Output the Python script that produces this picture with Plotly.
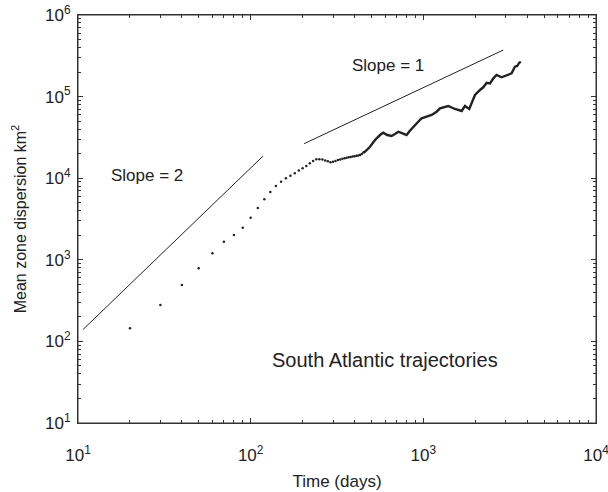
import plotly.graph_objects as go

# Early sparse samples (every 10 days), drawn as dots
dot_t = [20, 30, 40, 50, 60, 70, 80, 90, 100, 110, 120, 130, 140, 150, 160, 170,
         180, 190, 200, 210, 220, 230, 240, 250, 260, 270, 280, 290, 300, 310,
         320, 330, 340, 350, 360, 370, 380, 390, 400, 410, 420, 430, 440, 450]
dot_v = [145, 280, 490, 790, 1200, 1670, 2010, 2470, 3280, 4320, 5510, 6780,
         8020, 9060, 9980, 10700, 11500, 12400, 13200, 14100, 15200, 16300,
         17100, 17100, 16900, 16500, 16100, 15700, 15900, 16300, 16700, 17000,
         17300, 17600, 17800, 18000, 18200, 18400, 18600, 18800, 19000, 19300,
         19800, 20600]

# Later dense samples, merging into a continuous curve
curve_t = [450, 460, 491, 525, 561, 586, 618, 655, 685, 716, 759, 800, 836, 874,
           934, 977, 1045, 1117, 1194, 1248, 1394, 1524, 1667, 1742, 1845, 1905,
           1991, 2129, 2224, 2328, 2433, 2543, 2657, 2840, 3035, 3245, 3390,
           3497, 3591, 3670]
curve_v = [20600, 21200, 24300, 29400, 33800, 36100, 33800, 32900, 34800, 37100,
           35500, 33800, 38200, 42800, 49200, 54200, 56700, 59500, 65300, 71900,
           76700, 70500, 66600, 76700, 70500, 82800, 104600, 120500, 130000,
           148000, 145500, 167500, 184000, 172400, 184000, 193000, 232500,
           237000, 260000, 268000]

# Reference slope lines
slope2_t = [10.7, 118]
slope2_v = [140, 18700]
slope1_t = [204, 2904]
slope1_v = [26500, 372000]

labels = ["Slope = 2", "Slope = 1", "South Atlantic trajectories"]

x_tickvals = [10, 100, 1000, 10000]
x_ticktext = ["10<sup>1</sup>", "10<sup>2</sup>", "10<sup>3</sup>", "10<sup>4</sup>"]
y_tickvals = [10, 100, 1000, 10000, 100000, 1000000]
y_ticktext = ["10<sup>1</sup>", "10<sup>2</sup>", "10<sup>3</sup>",
              "10<sup>4</sup>", "10<sup>5</sup>", "10<sup>6</sup>"]

ink = "#222222"
axc = "#333333"
font = "Liberation Sans, Arial, sans-serif"

X_RANGE = [1, 4]
Y_RANGE = [1, 6]


def minor_vals(lo_exp, hi_exp):
    return [m * 10 ** e for e in range(lo_exp, hi_exp) for m in range(2, 10)]


fig = go.Figure()
fig.add_trace(go.Scatter(x=slope2_t, y=slope2_v, mode="lines",
                         line=dict(color=ink, width=1), hoverinfo="skip"))
fig.add_trace(go.Scatter(x=slope1_t, y=slope1_v, mode="lines",
                         line=dict(color=ink, width=1), hoverinfo="skip"))
fig.add_trace(go.Scatter(x=dot_t, y=dot_v, mode="markers",
                         marker=dict(color=ink, size=2.5, line=dict(width=0))))
fig.add_trace(go.Scatter(x=curve_t, y=curve_v, mode="lines",
                         line=dict(color=ink, width=2.4)))
# invisible trace that carries the overlay axes used for minor ticks
fig.add_trace(go.Scatter(x=[10, 10000], y=[10, 1000000], xaxis="x2", yaxis="y2",
                         mode="markers", marker=dict(opacity=0), hoverinfo="skip"))

ann_pos = [((146.7 - 78) / 518, (423 - 175) / 408, 17),
           ((388 - 78) / 518, (423 - 65) / 408, 17),
           ((385 - 78) / 518, (423 - 360) / 408, 20)]
for txt, (ax, ay, fs) in zip(labels, ann_pos):
    fig.add_annotation(xref="paper", yref="paper", x=ax, y=ay, text=txt,
                       xanchor="center", yanchor="middle", showarrow=False,
                       font=dict(size=fs, color=ink, family=font))

# plot frame
fig.add_shape(type="rect", xref="paper", yref="paper", x0=0, y0=0, x1=1, y1=1,
              line=dict(color=axc, width=1), fillcolor="rgba(0,0,0,0)", layer="above")

axis_common = dict(
    type="log", showgrid=False, zeroline=False, automargin=False,
    showline=True, linecolor=axc, linewidth=1, mirror="ticks",
    ticks="inside", ticklen=5, tickwidth=1, tickcolor=axc, tickmode="array",
    tickfont=dict(size=17, color=ink, family=font), ticklabeloverflow="allow",
)
minor_common = dict(
    type="log", showgrid=False, zeroline=False, automargin=False,
    showline=False, mirror="ticks", ticks="inside", ticklen=3, tickwidth=1,
    tickcolor=axc, tickmode="array", showticklabels=False,
)

fig.update_layout(
    width=608, height=492,
    margin=dict(l=78, r=12, t=15, b=69),
    paper_bgcolor="white", plot_bgcolor="white",
    showlegend=False,
    font=dict(family=font, color=ink),
    xaxis=dict(range=X_RANGE, tickvals=x_tickvals, ticktext=x_ticktext,
               ticklabelstandoff=17,
               title=dict(text="Time (days)",
                          font=dict(size=17, color=ink, family=font), standoff=10),
               **axis_common),
    yaxis=dict(range=Y_RANGE, tickvals=y_tickvals, ticktext=y_ticktext,
               ticklabelstandoff=3,
               title=dict(text="Mean zone dispersion km<sup>2</sup>",
                          font=dict(size=16, color=ink, family=font), standoff=14),
               **axis_common),
    xaxis2=dict(range=X_RANGE, overlaying="x", anchor="y2", side="bottom",
                tickvals=minor_vals(1, 4), **minor_common),
    yaxis2=dict(range=Y_RANGE, overlaying="y", anchor="x2", side="left",
                tickvals=minor_vals(1, 6), **minor_common),
)

fig.write_html("out.html", config={"displayModeBar": False},
               post_script=("document.body.style.margin='0';"
                            "document.body.style.overflow='hidden';"
                            "document.documentElement.style.overflow='hidden';"))
